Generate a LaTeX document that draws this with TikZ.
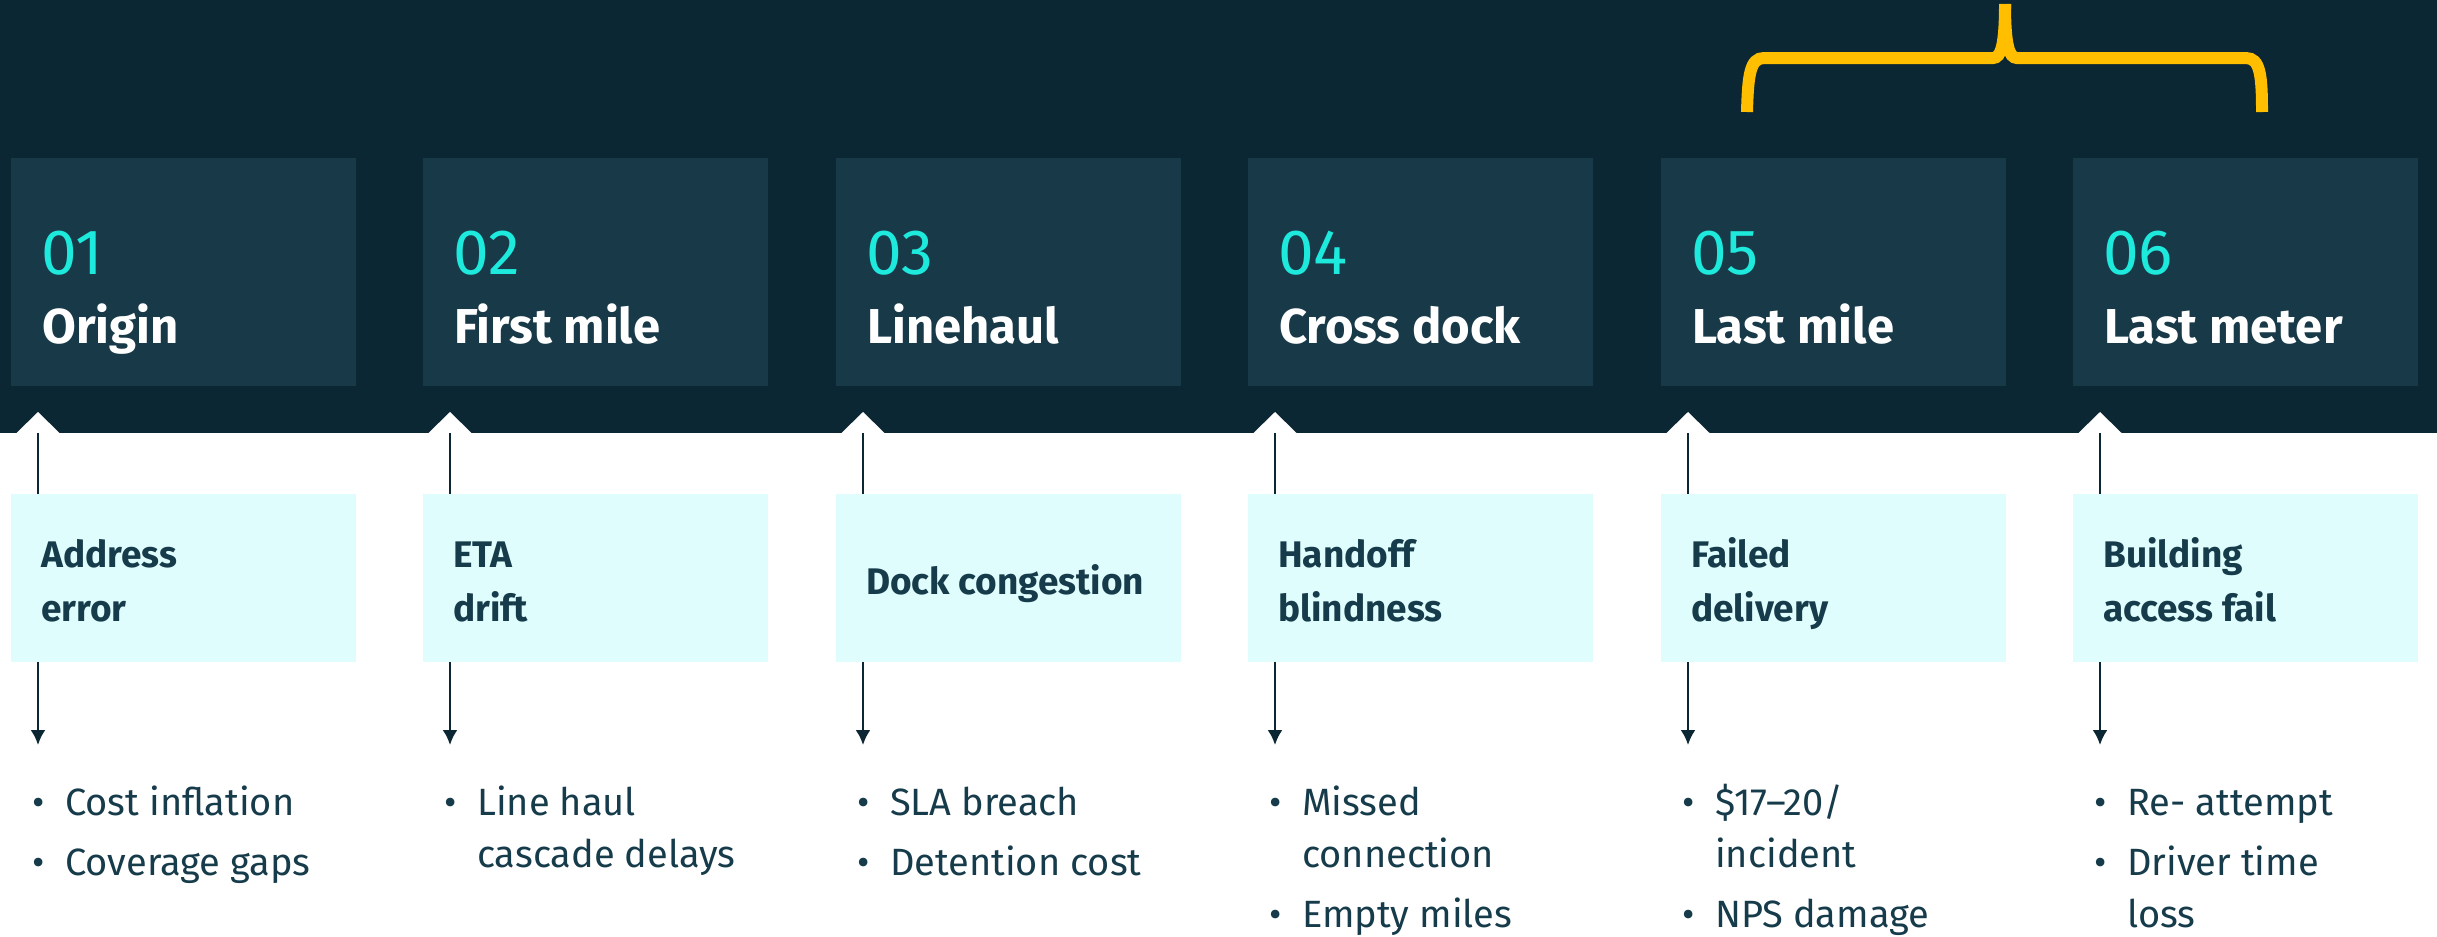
\documentclass[tikz,border=0pt]{standalone}
\usepackage{fontspec}
\setmainfont{Fira Sans}
\usepackage{tikz}
\usetikzlibrary{arrows.meta}

\definecolor{bgdark}{HTML}{0B2733}
\definecolor{boxblue}{HTML}{173948}
\definecolor{numcyan}{HTML}{1DE9DC}
\definecolor{riskfill}{HTML}{E0FDFD}
\definecolor{inkdark}{HTML}{163B4A}
\definecolor{braceyellow}{HTML}{FFBF00}

\newcommand{\dotitem}{\makebox[27pt]{•}}
\newcommand{\twolines}[2]{\begin{tabular}[t]{@{}l@{}}#1\\#2\end{tabular}}

\tikzset{
  stagebox/.style={fill=boxblue, anchor=north west, minimum width=345pt, minimum height=228pt, inner sep=0pt},
  numtxt/.style={text=numcyan, anchor=base west, inner sep=0pt, font=\fontsize{64}{72}\selectfont},
  titletxt/.style={text=white, anchor=base west, inner sep=0pt, font=\bfseries\fontsize{49}{56}\selectfont},
  riskbox/.style={fill=riskfill, anchor=north west, minimum width=345pt, minimum height=168pt, inner sep=0pt},
  risktxt/.style={text=inkdark, anchor=base west, inner sep=0pt, font=\bfseries\fontsize{37}{54}\selectfont},
  listtxt/.style={text=inkdark, anchor=base west, inner sep=0pt, font=\fontsize{38}{52}\selectfont},
  stem/.style={draw=bgdark, line width=2.5pt},
  tip/.style={-{Latex[length=15pt,width=15pt]}},
  notch/.style={fill=white},
  bracepath/.style={draw=braceyellow, line width=12pt}
}

\begin{document}
\begin{tikzpicture}[x=1pt,y=-1pt]
\useasboundingbox (0,0) rectangle (2437,937);
%%Background
\fill[white] (0,0) rectangle (2437,937);
\fill[bgdark] (0,0) rectangle (2437,433);
%%Brace
\draw[bracepath] (1747,112) .. controls (1748,75) and (1750,58) .. (1764,58) -- (1993,58) .. controls (2001,58) and (2005,45) .. (2005,4);
\draw[bracepath] (2005,4) .. controls (2005,45) and (2009,58) .. (2017,58) -- (2246,58) .. controls (2260,58) and (2262,75) .. (2262,112);

%%Stages
\node[stagebox] (s1) at (11,158) {};
\node[stagebox] (s2) at (423,158) {};
\node[stagebox] (s3) at (836,158) {};
\node[stagebox] (s4) at (1248,158) {};
\node[stagebox] (s5) at (1661,158) {};
\node[stagebox] (s6) at (2073,158) {};

\node[numtxt] (n1) at (41,274) {01};
\node[numtxt] (n2) at (453,274) {02};
\node[numtxt] (n3) at (866,274) {03};
\node[numtxt] (n4) at (1278,274) {04};
\node[numtxt] (n5) at (1691,274) {05};
\node[numtxt] (n6) at (2103,274) {06};

\node[titletxt] (t1) at (42,343) {Origin};
\node[titletxt] (t2) at (454,343) {First mile};
\node[titletxt] (t3) at (867,343) {Linehaul};
\node[titletxt] (t4) at (1279,343) {Cross dock};
\node[titletxt] (t5) at (1692,343) {Last mile};
\node[titletxt] (t6) at (2104,343) {Last meter};

%%Notches
\coordinate (p1) at (38,433);
\coordinate (p2) at (450,433);
\coordinate (p3) at (863,433);
\coordinate (p4) at (1275,433);
\coordinate (p5) at (1688,433);
\coordinate (p6) at (2100,433);
\fill[notch] ([xshift=-21.5pt]p1) -- ([yshift=21pt]p1) -- ([xshift=21.5pt]p1) -- cycle;
\fill[notch] ([xshift=-21.5pt]p2) -- ([yshift=21pt]p2) -- ([xshift=21.5pt]p2) -- cycle;
\fill[notch] ([xshift=-21.5pt]p3) -- ([yshift=21pt]p3) -- ([xshift=21.5pt]p3) -- cycle;
\fill[notch] ([xshift=-21.5pt]p4) -- ([yshift=21pt]p4) -- ([xshift=21.5pt]p4) -- cycle;
\fill[notch] ([xshift=-21.5pt]p5) -- ([yshift=21pt]p5) -- ([xshift=21.5pt]p5) -- cycle;
\fill[notch] ([xshift=-21.5pt]p6) -- ([yshift=21pt]p6) -- ([xshift=21.5pt]p6) -- cycle;

%%Risks
\node[riskbox] (r1) at (11,494) {};
\node[riskbox] (r2) at (423,494) {};
\node[riskbox] (r3) at (836,494) {};
\node[riskbox] (r4) at (1248,494) {};
\node[riskbox] (r5) at (1661,494) {};
\node[riskbox] (r6) at (2073,494) {};

\node[risktxt] (k1) at (41,567) {\twolines{Address}{error}};
\node[risktxt] (k2) at (453,567) {\twolines{ETA}{drift}};
\node[risktxt] (k3) at (866,594) {Dock congestion};
\node[risktxt] (k4) at (1278,567) {\twolines{Handoff}{blindness}};
\node[risktxt] (k5) at (1691,567) {\twolines{Failed}{delivery}};
\node[risktxt] (k6) at (2103,567) {\twolines{Building}{access fail}};

%%Arrow ends
\coordinate (e1) at (38,745);
\coordinate (e2) at (450,745);
\coordinate (e3) at (863,745);
\coordinate (e4) at (1275,745);
\coordinate (e5) at (1688,745);
\coordinate (e6) at (2100,745);

\draw[stem] (p1) -- (r1.north -| p1);
\draw[stem] (p2) -- (r2.north -| p2);
\draw[stem] (p3) -- (r3.north -| p3);
\draw[stem] (p4) -- (r4.north -| p4);
\draw[stem] (p5) -- (r5.north -| p5);
\draw[stem] (p6) -- (r6.north -| p6);
\draw[stem,tip] (r1.south -| e1) -- (e1);
\draw[stem,tip] (r2.south -| e2) -- (e2);
\draw[stem,tip] (r3.south -| e3) -- (e3);
\draw[stem,tip] (r4.south -| e4) -- (e4);
\draw[stem,tip] (r5.south -| e5) -- (e5);
\draw[stem,tip] (r6.south -| e6) -- (e6);

%%Effects
\node[listtxt] (b1) at (24.5,815) {\begin{tabular}[t]{@{}c@{\hspace{13.5pt}}l@{}}\dotitem & Cost inflation\\[8pt] \dotitem & Coverage gaps\end{tabular}};
\node[listtxt] (b2) at (436.5,815) {\begin{tabular}[t]{@{}c@{\hspace{13.5pt}}l@{}}\dotitem & Line haul\\ & cascade delays\end{tabular}};
\node[listtxt] (b3) at (849.5,815) {\begin{tabular}[t]{@{}c@{\hspace{13.5pt}}l@{}}\dotitem & SLA breach\\[8pt] \dotitem & Detention cost\end{tabular}};
\node[listtxt] (b4) at (1261.5,815) {\begin{tabular}[t]{@{}c@{\hspace{13.5pt}}l@{}}\dotitem & Missed\\ & connection\\[8pt] \dotitem & Empty miles\end{tabular}};
\node[listtxt] (b5) at (1674.5,815) {\begin{tabular}[t]{@{}c@{\hspace{13.5pt}}l@{}}\dotitem & \$17–20/\\ & incident\\[8pt] \dotitem & NPS damage\end{tabular}};
\node[listtxt] (b6) at (2086.5,815) {\begin{tabular}[t]{@{}c@{\hspace{13.5pt}}l@{}}\dotitem & Re- attempt\\[8pt] \dotitem & Driver time\\ & loss\end{tabular}};
\end{tikzpicture}
\end{document}
